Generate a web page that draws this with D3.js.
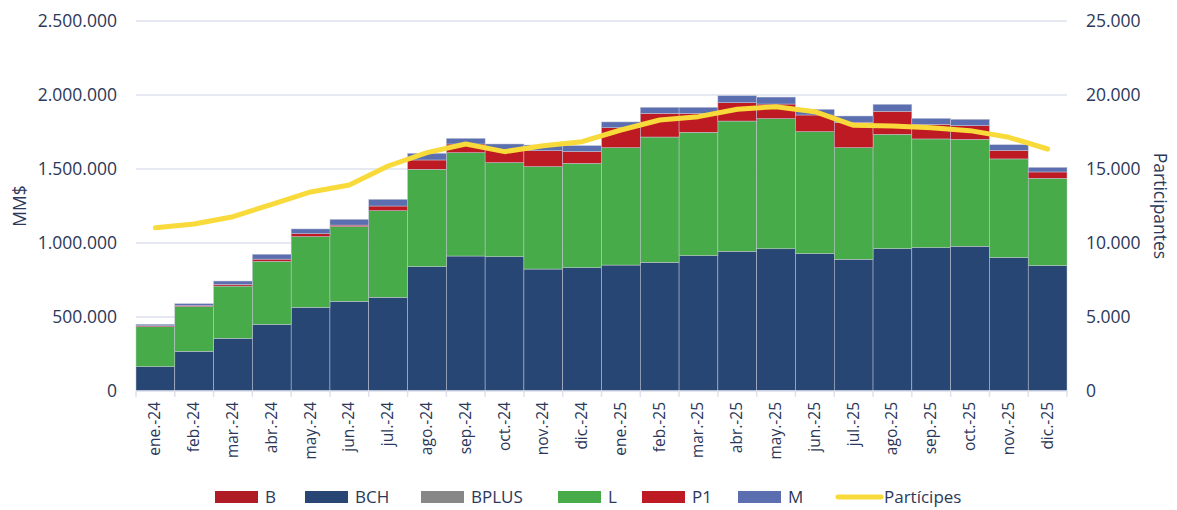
<!DOCTYPE html>
<html>
<head>
<meta charset="utf-8">
<script src="https://cdn.jsdelivr.net/npm/d3@7"></script>
<style>
  body { margin: 0; background: #fff; }
  svg { font-family: "Open Sans", sans-serif; }
</style>
</head>
<body>
<div id="wrapper"></div>
<script>
const months = ["ene.-24", "feb.-24", "mar.-24", "abr.-24", "may.-24", "jun.-24", "jul.-24", "ago.-24", "sep.-24", "oct.-24", "nov.-24", "dic.-24",
    "ene.-25", "feb.-25", "mar.-25", "abr.-25", "may.-25", "jun.-25", "jul.-25", "ago.-25", "sep.-25", "oct.-25", "nov.-25", "dic.-25"]

// MM$
const serieB = [0, 0, 0, 0, 0, 0, 0, 0, 0, 0, 0, 0, 0, 0, 0, 0, 2000, 0, 0, 0, 0, 0, 0, 0]
const serieBCH = [164000, 268000, 356000, 450000, 565000, 606000, 633000, 840000, 912000, 907000, 824000, 833000,
    851000, 869000, 914000, 944000, 959000, 928000, 890000, 962000, 968000, 978000, 901000, 847000]
const serieBPLUS = [0, 0, 0, 0, 0, 0, 0, 0, 0, 0, 0, 0, 0, 0, 0, 0, 0, 0, 0, 0, 0, 0, 0, 0]
const serieL = [270000, 302000, 353000, 426000, 478000, 504000, 585000, 658000, 698000, 636000, 692000, 705000,
    793000, 847000, 834000, 880000, 879000, 824000, 754000, 772000, 735000, 722000, 667000, 590000]
const serieP1 = [7000, 8000, 11000, 15000, 20000, 11000, 32000, 63000, 59000, 90000, 108000, 81000,
    135000, 160000, 128000, 124000, 99000, 113000, 172000, 156000, 99000, 93000, 58000, 43000]
const serieM = [10000, 12000, 23000, 33000, 32000, 39000, 45000, 45000, 38000, 36000, 38000, 39000,
    39000, 41000, 41000, 47000, 47000, 38000, 42000, 47000, 40000, 43000, 38000, 31000]

// número de partícipes
const participes = [11036, 11284, 11779, 12613, 13447, 13919, 15203, 16103, 16690, 16171, 16577, 16847,
    17636, 18311, 18536, 19032, 19213, 18874, 17950, 17900, 17793, 17591, 17141, 16352]

const seriesNames = ["B", "BCH", "BPLUS", "L", "P1", "M"]
const seriesColors = ["#b01c26", "#284673", "#878787", "#46ab48", "#be1a24", "#5a6eb0"]
const leftTicks = [0, 500000, 1000000, 1500000, 2000000, 2500000]
const rightTicks = [0, 5000, 10000, 15000, 20000, 25000]

function draw() {
    const dimensions = {
        width: 1177,
        height: 510,
        margin: { top: 21, right: 110, bottom: 119, left: 136 },
    }
    dimensions.boundedWidth = dimensions.width - dimensions.margin.left - dimensions.margin.right
    dimensions.boundedHeight = dimensions.height - dimensions.margin.top - dimensions.margin.bottom

    const textColor = "#2b3859"
    const gridColor = "#dfe2ee"
    const fmt = d3.formatLocale({ decimal: ",", thousands: ".", grouping: [3], currency: ["$", ""] }).format(",d")

    const table = months.map((m, i) => ({
        month: m,
        B: serieB[i], BCH: serieBCH[i], BPLUS: serieBPLUS[i],
        L: serieL[i], P1: serieP1[i], M: serieM[i],
    }))
    const stacked = d3.stack().keys(seriesNames)(table)

    const wrapper = d3.select("#wrapper")
        .append("svg")
        .attr("width", dimensions.width)
        .attr("height", dimensions.height)

    const bounds = wrapper.append("g")
        .attr("transform", `translate(${dimensions.margin.left},${dimensions.margin.top})`)

    const xScale = d3.scaleBand()
        .domain(months)
        .range([0, dimensions.boundedWidth])
        .padding(0)

    const yScale = d3.scaleLinear()
        .domain([0, 2500000])
        .range([dimensions.boundedHeight, 0])

    const y2Scale = d3.scaleLinear()
        .domain([0, 25000])
        .range([dimensions.boundedHeight, 0])

    // grid
    bounds.append("g")
        .selectAll("line")
        .data(leftTicks.slice(1))
        .join("line")
        .attr("x1", 0)
        .attr("x2", dimensions.boundedWidth)
        .attr("y1", d => yScale(d))
        .attr("y2", d => yScale(d))
        .attr("stroke", gridColor)
        .attr("stroke-width", 1.5)

    // stacked bars
    bounds.append("g")
        .selectAll("g")
        .data(stacked)
        .join("g")
        .attr("fill", (d, i) => seriesColors[i])
        .selectAll("rect")
        .data(d => d)
        .join("rect")
        .attr("x", d => xScale(d.data.month))
        .attr("y", d => yScale(d[1]))
        .attr("width", xScale.bandwidth())
        .attr("height", d => Math.max(0, yScale(d[0]) - yScale(d[1])))
        .attr("stroke", d => (d[1] - d[0]) > 0 ? "#c3c7d5" : "none")
        .attr("stroke-width", 0.5)

    // x axis
    const xAxis = bounds.append("g")
        .attr("transform", `translate(0,${dimensions.boundedHeight})`)
    xAxis.append("line")
        .attr("x1", 0)
        .attr("x2", dimensions.boundedWidth)
        .attr("stroke", gridColor)
        .attr("stroke-width", 1.5)
    xAxis.selectAll(".tick")
        .data(d3.range(months.length + 1))
        .join("line")
        .attr("x1", i => i * xScale.step())
        .attr("x2", i => i * xScale.step())
        .attr("y1", 0)
        .attr("y2", 6)
        .attr("stroke", gridColor)
        .attr("stroke-width", 1.5)
    xAxis.selectAll("text")
        .data(months)
        .join("text")
        .attr("transform", d => `translate(${xScale(d) + xScale.bandwidth() / 2 + 5},11) rotate(-90)`)
        .attr("text-anchor", "end")
        .attr("fill", textColor)
        .attr("font-size", "15.5px")
        .text(d => d)

    // left axis
    bounds.append("g")
        .selectAll("text")
        .data(leftTicks)
        .join("text")
        .attr("x", -19)
        .attr("y", d => yScale(d))
        .attr("dy", "0.35em")
        .attr("text-anchor", "end")
        .attr("fill", textColor)
        .attr("font-size", "17.5px")
        .text(d => fmt(d))

    // right axis
    bounds.append("g")
        .selectAll("text")
        .data(rightTicks)
        .join("text")
        .attr("x", dimensions.boundedWidth + 19)
        .attr("y", d => y2Scale(d))
        .attr("dy", "0.35em")
        .attr("text-anchor", "start")
        .attr("fill", textColor)
        .attr("font-size", "17.5px")
        .text(d => fmt(d))

    // axis titles
    wrapper.append("text")
        .attr("transform", `translate(26,${dimensions.margin.top + 185}) rotate(-90)`)
        .attr("text-anchor", "middle")
        .attr("fill", textColor)
        .attr("font-size", "17.5px")
        .text("MM$")
    wrapper.append("text")
        .attr("transform", `translate(1154,${dimensions.margin.top + 185}) rotate(90)`)
        .attr("text-anchor", "middle")
        .attr("fill", textColor)
        .attr("font-size", "17.5px")
        .text("Participantes")

    // partícipes line
    const lineGen = d3.line()
        .x((d, i) => xScale(months[i]) + xScale.bandwidth() / 2)
        .y(d => y2Scale(d))
    bounds.append("path")
        .datum(participes)
        .attr("d", lineGen)
        .attr("fill", "none")
        .attr("stroke", "#f8da3a")
        .attr("stroke-width", 5)
        .attr("stroke-linecap", "round")
        .attr("stroke-linejoin", "round")

    // legend
    const legendItems = [
        { name: "B", color: seriesColors[0], x: 215 },
        { name: "BCH", color: seriesColors[1], x: 305 },
        { name: "BPLUS", color: seriesColors[2], x: 421 },
        { name: "L", color: seriesColors[3], x: 558 },
        { name: "P1", color: seriesColors[4], x: 642 },
        { name: "M", color: seriesColors[5], x: 738 },
    ]
    const legend = wrapper.append("g")
    const legendY = 497
    const items = legend.selectAll("g")
        .data(legendItems)
        .join("g")
        .attr("transform", d => `translate(${d.x},${legendY})`)
    items.append("rect")
        .attr("x", 0)
        .attr("y", -6)
        .attr("width", 43)
        .attr("height", 12)
        .attr("fill", d => d.color)
    items.append("text")
        .attr("x", 50)
        .attr("dy", "0.35em")
        .attr("fill", textColor)
        .attr("font-size", "17px")
        .text(d => d.name)

    const lineLegend = legend.append("g")
        .attr("transform", `translate(838,${legendY})`)
    lineLegend.append("line")
        .attr("x1", 0)
        .attr("x2", 43)
        .attr("stroke", "#f8da3a")
        .attr("stroke-width", 5)
        .attr("stroke-linecap", "round")
    lineLegend.append("text")
        .attr("x", 46)
        .attr("dy", "0.35em")
        .attr("fill", textColor)
        .attr("font-size", "17px")
        .text("Partícipes")
}

draw()
</script>
</body>
</html>
